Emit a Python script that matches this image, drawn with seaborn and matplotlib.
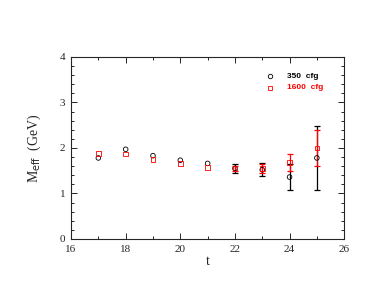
import matplotlib
matplotlib.use("Agg")
import matplotlib.pyplot as plt
from matplotlib.ticker import MultipleLocator
import seaborn as sns
import pandas as pd

t = [17, 18, 19, 20, 21, 22, 23, 24, 25]
m350 = [1.78, 1.97, 1.83, 1.73, 1.66, 1.55, 1.52, 1.36, 1.78]
e350 = [0.0, 0.0, 0.0, 0.0, 0.0, 0.10, 0.14, 0.28, 0.71]
m1600 = [1.88, 1.87, 1.75, 1.66, 1.57, 1.55, 1.55, 1.68, 2.00]
e1600 = [0.0, 0.0, 0.0, 0.0, 0.0, 0.06, 0.10, 0.18, 0.40]
labels = ["350  cfg", "1600  cfg"]

df = pd.concat([
    pd.DataFrame({"t": t, "M": m350, "err": e350, "set": labels[0]}),
    pd.DataFrame({"t": t, "M": m1600, "err": e1600, "set": labels[1]}),
])

sns.set_style("ticks")
plt.rcParams["font.family"] = ["Liberation Serif", "DejaVu Serif"]

fig = plt.figure(figsize=(3.82, 2.95), dpi=100)
ax = fig.add_axes([0.186, 0.19, 0.715, 0.617])

colors = {labels[0]: "black", labels[1]: "red"}
markers = {labels[0]: "o", labels[1]: "s"}

for lab in labels:
    d = df[(df["set"] == lab) & (df["err"] > 0)]
    ax.errorbar(d["t"], d["M"], yerr=d["err"], fmt="none", ecolor=colors[lab],
                elinewidth=0.9, capsize=2.2, capthick=0.9, zorder=2)

sns.scatterplot(data=df, x="t", y="M", hue="set", style="set",
                palette=colors, markers=markers, s=11,
                linewidth=0.6, ax=ax, legend=False, zorder=3)
sc = ax.collections[-1]
fc = sc.get_facecolors()
sc.set_edgecolors(fc)
sc.set_facecolors("none")

ax.set_xlim(16, 26)
ax.set_ylim(0, 4)
ax.xaxis.set_major_locator(MultipleLocator(2))
ax.xaxis.set_minor_locator(MultipleLocator(1))
ax.yaxis.set_major_locator(MultipleLocator(1))
ax.yaxis.set_minor_locator(MultipleLocator(0.2))
ax.tick_params(which="both", direction="in", top=True, right=True,
               labelsize=8, width=0.7, pad=4)
ax.tick_params(which="major", length=4)
ax.tick_params(which="minor", length=2)
for s in ax.spines.values():
    s.set_linewidth(0.8)
    s.set_visible(True)

ax.set_xlabel("t", fontsize=10, labelpad=1)
ax.set_ylabel(r"M$_{\rm eff}$  (GeV)", fontsize=10, labelpad=12)

# legend
ax.plot([23.3], [3.58], marker="o", ms=3.2, mfc="none", mec="black", mew=0.6, ls="none")
ax.plot([23.3], [3.32], marker="s", ms=3.2, mfc="none", mec="red", mew=0.6, ls="none")
ax.text(23.9, 3.58, labels[0], fontsize=6, fontweight="bold", color="black",
        va="center", family=["Liberation Sans", "DejaVu Sans"])
ax.text(23.9, 3.32, labels[1], fontsize=6, fontweight="bold", color="red",
        va="center", family=["Liberation Sans", "DejaVu Sans"])

fig.savefig("out.png", dpi=100)
